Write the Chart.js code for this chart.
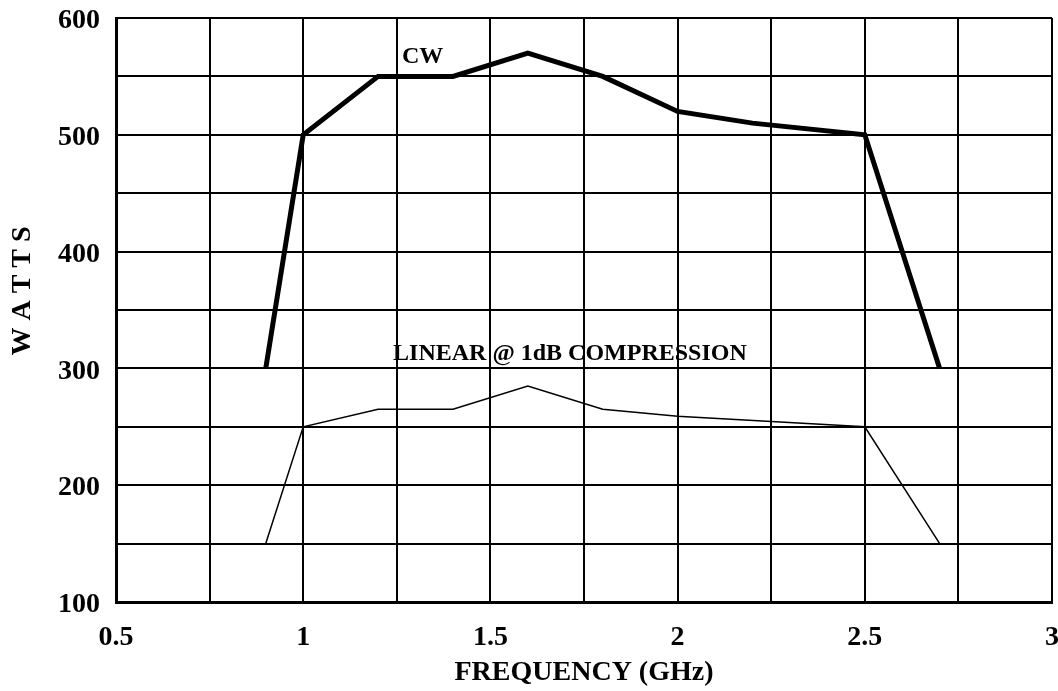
<!DOCTYPE html>
<html>
<head>
<meta charset="utf-8">
<script src="https://cdn.jsdelivr.net/npm/chart.js@4.4.0/dist/chart.umd.min.js"></script>
<style>
  html, body { margin: 0; padding: 0; background: #fff; }
  #wrap { width: 1058px; height: 691px; }
</style>
</head>
<body>
<div id="wrap"><canvas id="charts" width="1058" height="691"></canvas></div>
<script>
// frequency (GHz) and power (W)
const freqCW = [0.9, 1.0, 1.2, 1.4, 1.6, 1.8, 2.0, 2.2, 2.5, 2.7]
const wattsCW = [300, 500, 550, 550, 570, 550, 520, 510, 500, 300]

const freqLinear = [0.9, 1.0, 1.2, 1.4, 1.6, 1.8, 2.0, 2.5, 2.7]
const wattsLinear = [150, 250, 265, 265, 285, 265, 259, 250, 150]

const xTickLabels = [0.5, 1, 1.5, 2, 2.5, 3]
const yTickLabels = [100, 200, 300, 400, 500, 600]

// curve names written on the plot, anchored in data units
const curveNames = ['CW', 'LINEAR @ 1dB COMPRESSION']
const curveNameAt = [[1.264, 561.5], [1.24, 307]]

const serif = '"Liberation Serif", "Times New Roman", serif'

function main()
{
    const toPoints = (xs, ys) => xs.map((x, i) => ({ x: x, y: ys[i] }))

    // curve names + the y title (drawn by hand so it can sit a bit above centre)
    const curveLabels = {
        id: 'curveLabels',
        afterDraw(chart) {
            const ctx = chart.ctx
            const xs = chart.scales.x
            const ys = chart.scales.y
            ctx.save()
            ctx.fillStyle = '#000'
            ctx.textBaseline = 'alphabetic'
            ctx.textAlign = 'left'
            ctx.font = 'bold 24px ' + serif
            curveNames.forEach((name, i) => {
                ctx.fillText(name, xs.getPixelForValue(curveNameAt[i][0]), ys.getPixelForValue(curveNameAt[i][1]))
            })

            ctx.translate(23, 291)
            ctx.rotate(-Math.PI / 2)
            ctx.textAlign = 'center'
            ctx.textBaseline = 'middle'
            ctx.font = 'bold 28px ' + serif
            ctx.fillText('W A T T S', 0, 0)
            ctx.restore()
        }
    }

    var ctx = document.getElementById('charts').getContext('2d')

    var chart = new Chart(ctx, {
        type: 'line',
        data: {
            datasets: [{
                label: 'CW',
                data: toPoints(freqCW, wattsCW),
                borderColor: '#000',
                borderWidth: 5,
                pointRadius: 0,
                tension: 0
            }, {
                label: 'LINEAR @ 1dB COMPRESSION',
                data: toPoints(freqLinear, wattsLinear),
                borderColor: '#000',
                borderWidth: 1.5,
                pointRadius: 0,
                tension: 0
            }]
        },
        options: {
            responsive: false,
            animation: false,
            layout: { padding: { top: 18, right: 6, left: 0, bottom: 0 } },
            plugins: {
                legend: { display: false },
                tooltip: { enabled: false }
            },
            scales: {
                x: {
                    type: 'linear',
                    min: 0.5,
                    max: 3,
                    afterBuildTicks: (axis) => {
                        axis.ticks = []
                        for (let v = 0.5; v <= 3.0001; v += 0.25) axis.ticks.push({ value: v })
                    },
                    afterFit: (axis) => {
                        axis.height = 89
                        axis.paddingLeft = 0
                        axis.paddingRight = 0
                    },
                    ticks: {
                        color: '#000',
                        font: { family: serif, size: 28, weight: 'bold' },
                        padding: 19,
                        maxRotation: 0,
                        autoSkip: false,
                        callback: (v) => xTickLabels.includes(Math.round(v * 100) / 100) ? String(v) : ''
                    },
                    grid: { color: '#000', lineWidth: 2, drawTicks: false },
                    border: { color: '#000', width: 3 },
                    title: {
                        display: true,
                        text: 'FREQUENCY (GHz)',
                        color: '#000',
                        font: { family: serif, size: 28, weight: 'bold' },
                        padding: { top: 0, bottom: 1 }
                    }
                },
                y: {
                    min: 100,
                    max: 600,
                    afterBuildTicks: (axis) => {
                        axis.ticks = []
                        for (let v = 100; v <= 600; v += 50) axis.ticks.push({ value: v })
                    },
                    afterFit: (axis) => {
                        axis.width = 116
                        axis.paddingTop = 0
                        axis.paddingBottom = 0
                    },
                    ticks: {
                        color: '#000',
                        font: { family: serif, size: 28, weight: 'bold' },
                        padding: 16,
                        labelOffset: 3,
                        autoSkip: false,
                        callback: (v) => yTickLabels.includes(v) ? String(v) : ''
                    },
                    grid: { color: '#000', lineWidth: 2, drawTicks: false },
                    border: { color: '#000', width: 3 }
                }
            }
        },
        plugins: [curveLabels]
    })
}

main()
</script>
</body>
</html>
